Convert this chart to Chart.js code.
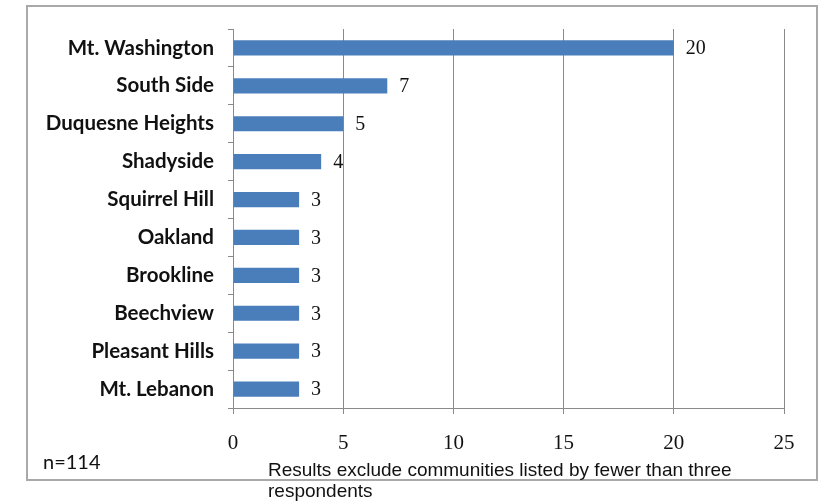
<!DOCTYPE html>
<html lang="en">
<head>
    <meta charset="UTF-8">
    <title>Communities</title>
    <script src="https://cdn.jsdelivr.net/npm/chart.js"></script>
    <style>
        body {
            margin: 0;
            padding: 0;
            background: #fff;
        }

        #wrap {
            position: relative;
            width: 820px;
            height: 502px;
            overflow: hidden;
        }

        /* grey outline round the chart */
        #frame {
            position: absolute;
            left: 26px;
            top: 5px;
            width: 792px;
            height: 476px;
            box-sizing: border-box;
            border: 2px solid #a9a9a9;
        }

        canvas {
            position: absolute;
            left: 0;
            top: 0;
        }

        #sample {
            position: absolute;
            left: 43px;
            top: 449px;
            font-family: Lato, sans-serif;
            font-size: 20px;
            color: #111;
        }

        #note {
            position: absolute;
            left: 268px;
            top: 459px;
            width: 520px;
            font-family: "Liberation Sans", Arial, sans-serif;
            font-size: 19px;
            line-height: 21px;
            color: #111;
        }
    </style>
</head>
<body>

<div id="wrap">
    <div id="frame"></div>
    <canvas id="myChart" width="820" height="502"></canvas>
    <div id="sample">n=114</div>
    <div id="note">Results exclude communities listed by fewer than three respondents</div>
</div>

<script>
    const communities = ['Mt. Washington', 'South Side', 'Duquesne Heights', 'Shadyside', 'Squirrel Hill',
        'Oakland', 'Brookline', 'Beechview', 'Pleasant Hills', 'Mt. Lebanon'];
    const respondents = [20, 7, 5, 4, 3, 3, 3, 3, 3, 3];
    const xTicks = [0, 5, 10, 15, 20, 25];

    const gridGrey = '#8a8a8a';

    // prints each count just past the end of its bar
    const barValues = {
        id: 'barValues',
        afterDatasetsDraw(chart) {
            const ctx = chart.ctx;
            const meta = chart.getDatasetMeta(0);
            ctx.save();
            ctx.font = '20px "Liberation Serif", serif';
            ctx.fillStyle = '#111';
            ctx.textAlign = 'left';
            ctx.textBaseline = 'middle';
            meta.data.forEach((bar, i) => {
                ctx.fillText(String(respondents[i]), bar.x + 12, bar.y + 1);
            });
            ctx.restore();
        }
    };

    const ctx = document.getElementById('myChart').getContext('2d');
    const myChart = new Chart(ctx, {
        type: 'bar',
        data: {
            labels: communities,
            datasets: [{
                data: respondents,
                backgroundColor: '#4a7ebb',
                borderWidth: 0,
                barPercentage: 0.4,
                categoryPercentage: 1
            }]
        },
        options: {
            indexAxis: 'y',
            responsive: false,
            animation: false,
            layout: {
                padding: { top: 29, right: 36, bottom: 0, left: 0 }
            },
            plugins: {
                legend: { display: false },
                tooltip: { enabled: false }
            },
            scales: {
                x: {
                    min: 0,
                    max: 25,
                    afterFit(axis) { axis.height = 94; },
                    afterBuildTicks(axis) {
                        axis.ticks = xTicks.map(v => ({ value: v }));
                    },
                    grid: {
                        color: gridGrey,
                        lineWidth: 1,
                        tickLength: 6
                    },
                    border: { color: gridGrey, width: 1 },
                    ticks: {
                        padding: 17,
                        color: '#111',
                        font: { family: '"Liberation Serif", serif', size: 21 }
                    }
                },
                y: {
                    afterFit(axis) { axis.width = 233; },
                    grid: {
                        drawOnChartArea: false,
                        color: gridGrey,
                        tickLength: 5
                    },
                    border: { color: gridGrey, width: 1 },
                    ticks: {
                        padding: 14,
                        color: '#111',
                        font: { family: 'Lato, sans-serif', size: 20.5, weight: 'bold' }
                    }
                }
            }
        },
        plugins: [barValues]
    });
</script>
</body>
</html>
